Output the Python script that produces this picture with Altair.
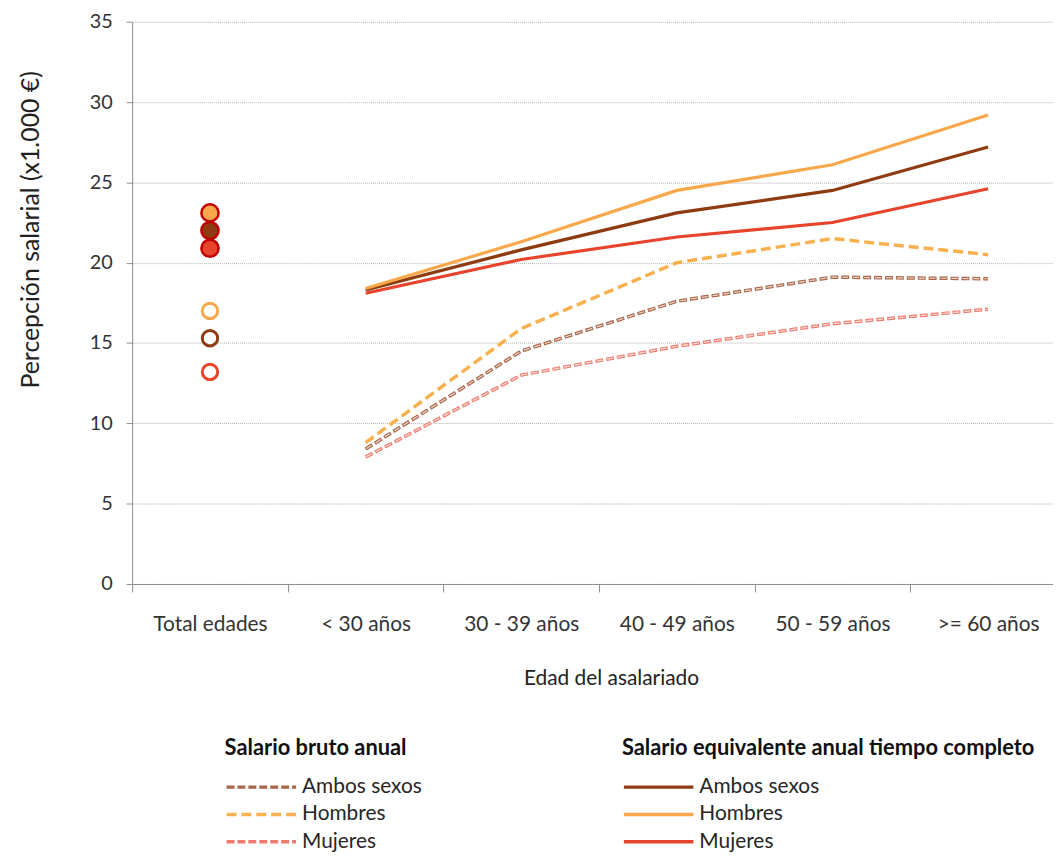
import altair as alt
import pandas as pd

edades = ["Total edades", "< 30 años", "30 - 39 años", "40 - 49 años", "50 - 59 años", ">= 60 años"]
grupos = edades[1:]
series = ["Ambos sexos", "Hombres", "Mujeres"]

# Salario bruto anual (x1.000 €)
bruto_ambos = [8.4, 14.5, 17.6, 19.1, 19.0]
bruto_hombres = [8.8, 15.9, 20.0, 21.5, 20.5]
bruto_mujeres = [7.9, 13.0, 14.8, 16.2, 17.1]
# Salario equivalente anual tiempo completo (x1.000 €)
equiv_ambos = [18.3, 20.8, 23.1, 24.5, 27.2]
equiv_hombres = [18.4, 21.3, 24.5, 26.1, 29.2]
equiv_mujeres = [18.1, 20.2, 21.6, 22.5, 24.6]
# Total edades (Ambos sexos, Hombres, Mujeres)
total_bruto = [15.3, 17.0, 13.2]
total_equiv = [22.0, 23.1, 20.9]

rows = []
for tipo, vals in [("bruto", [bruto_ambos, bruto_hombres, bruto_mujeres]),
                   ("equiv", [equiv_ambos, equiv_hombres, equiv_mujeres])]:
    for s, v in zip(series, vals):
        for g, val in zip(grupos, v):
            rows.append({"edad": g, "serie": s, "serie_b": s, "serie_e": s, "tipo": tipo, "valor": val})
lines_df = pd.DataFrame(rows)

trows = []
for tipo, vals in [("bruto", total_bruto), ("equiv", total_equiv)]:
    for s, val in zip(series, vals):
        trows.append({"edad": "Total edades", "serie": s, "tipo": tipo, "valor": val})
total_df = pd.DataFrame(trows)

FONT = "Lato"
AXIS_GRAY = "#8c8c8c"

x = alt.X(
    "edad:N",
    sort=edades,
    scale=alt.Scale(type="band", domain=edades, range=[0, 940], paddingInner=0, paddingOuter=0),
    axis=alt.Axis(
        title="Edad del asalariado", labelAngle=0, tickBand="extent", grid=False,
        domainColor=AXIS_GRAY, tickColor=AXIS_GRAY, tickSize=8, labelPadding=22,
        titlePadding=33, titleX=482, labelFont=FONT, labelFontSize=21, labelColor="#333333",
        titleFont=FONT, titleFontSize=21, titleFontWeight="normal", titleColor="#222222",
    ),
)
y = alt.Y(
    "valor:Q",
    scale=alt.Scale(domain=[0, 35], nice=False, zero=True),
    axis=alt.Axis(
        title="Percepción salarial (x1.000 €)", values=[0, 5, 10, 15, 20, 25, 30, 35],
        grid=True, gridColor="#b0b0b0", gridDash=[1, 1], gridWidth=1,
        domainColor=AXIS_GRAY, tickColor=AXIS_GRAY, tickSize=6, labelPadding=14,
        titlePadding=46, titleY=209, labelFont=FONT, labelFontSize=20, labelColor="#333333",
        titleFont=FONT, titleFontSize=25, titleFontWeight="normal", titleColor="#222222",
    ),
)

C_AMB = "#8e3b12"
C_HOM = "#f8a84a"
C_MUJ = "#e8432c"
B_AMB = "#a8654a"
B_HOM = "#f9b04e"
B_MUJ = "#ee7b6e"


def leg(title, lx):
    return alt.Legend(
        title=title, orient="none", legendX=lx, legendY=721, direction="vertical",
        symbolType="stroke", symbolSize=4900, symbolStrokeWidth=3.5,
        clipHeight=27, rowPadding=0.5, titlePadding=14, labelOffset=4,
        labelFont=FONT, labelFontSize=21, labelColor="#262626", labelLimit=300,
        titleFont=FONT, titleFontSize=22, titleFontWeight="bold", titleColor="#111111",
        titleLimit=700,
    )


open_pts = alt.Chart(total_df).transform_filter("datum.tipo == 'bruto'").mark_circle(
    fill="white", strokeWidth=3, size=240, opacity=1
).encode(
    x=x, y=y,
    stroke=alt.Stroke("serie:N", scale=alt.Scale(domain=series, range=[C_AMB, C_HOM, C_MUJ]), legend=None),
)

filled_pts = alt.Chart(total_df).transform_filter("datum.tipo == 'equiv'").mark_circle(
    stroke="#c00000", strokeWidth=2.5, size=300, opacity=1
).encode(
    x=x, y=y,
    fill=alt.Fill("serie:N", scale=alt.Scale(domain=series, range=[C_AMB, C_HOM, C_MUJ]), legend=None),
)

bruto = alt.Chart(lines_df).transform_filter("datum.tipo == 'bruto'").mark_line(
    strokeWidth=3.5, interpolate="linear", strokeCap="butt"
).encode(
    x=x, y=y,
    color=alt.Color("serie_b:N", scale=alt.Scale(range=[B_AMB, B_HOM, B_MUJ]),
                    legend=leg("Salario bruto anual", 93)),
    strokeDash=alt.StrokeDash("serie_b:N", scale=alt.Scale(range=[[8, 3], [10, 5], [8, 3]]),
                              legend=leg("Salario bruto anual", 93)),
)

inner = alt.Chart(lines_df).transform_filter(
    "datum.tipo == 'bruto' && datum.serie != 'Hombres'"
).mark_line(
    strokeWidth=1.2, interpolate="linear", strokeDash=[6, 5], strokeDashOffset=-1, strokeCap="butt"
).encode(
    x=x, y=y,
    color=alt.Color("serie:N", scale=alt.Scale(domain=["Ambos sexos", "Mujeres"], range=["#efd8ca", "#fde0da"]),
                    legend=None),
)

equiv = alt.Chart(lines_df).transform_filter("datum.tipo == 'equiv'").mark_line(
    strokeWidth=3.2, interpolate="linear"
).encode(
    x=x, y=y,
    color=alt.Color("serie_e:N", scale=alt.Scale(range=[C_AMB, C_HOM, C_MUJ]),
                    legend=leg("Salario equivalente anual tiempo completo", 493)),
)

chart = alt.layer(open_pts, filled_pts, bruto, inner, equiv).resolve_scale(
    color="independent", strokeDash="independent", fill="independent", stroke="independent"
).properties(
    width=927, height=566,
    autosize=alt.AutoSizeParams(type="none"),
    padding={"left": 125, "top": 11, "right": 0, "bottom": 270},
).configure_view(stroke=None)

chart.save("out.html", embed_options={"renderer": "svg", "actions": False})
